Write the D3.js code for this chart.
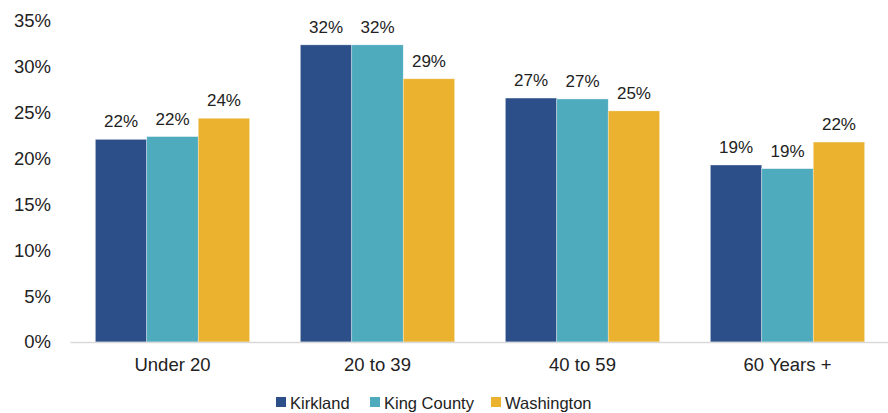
<!DOCTYPE html>
<html>
<head>
<meta charset="utf-8">
<script src="https://cdn.jsdelivr.net/npm/d3@7"></script>
<style>
  body { margin: 0; background: #fff; }
  text { font-family: "Liberation Sans", Arial, sans-serif; fill: #222; }
</style>
</head>
<body>
<div id="chart"></div>
<script>
const ageGroups = ["Under 20", "20 to 39", "40 to 59", "60 Years +"];
const seriesNames = ["Kirkland", "King County", "Washington"];
const kirkland = [22.1, 32.4, 26.6, 19.3];
const kingCounty = [22.4, 32.4, 26.5, 18.9];
const washington = [24.4, 28.7, 25.2, 21.8];
const yTicks = [0, 5, 10, 15, 20, 25, 30, 35];
const colors = ["#2c4f8a", "#4eabbd", "#eab22e"];

const seriesValues = [kirkland, kingCounty, washington];
const rows = ageGroups.map((g, i) => ({
  group: g,
  values: seriesNames.map((s, j) => ({ key: s, value: seriesValues[j][i] }))
}));

const W = 888, H = 413;
const margin = { top: 21, right: -2, bottom: 71, left: 70 };
const width = W - margin.left - margin.right,
  height = H - margin.top - margin.bottom;

const svg = d3.select("#chart").append("svg")
  .attr("width", W).attr("height", H);
const g = svg.append("g")
  .attr("transform", "translate(" + margin.left + "," + margin.top + ")");

const x0 = d3.scaleBand().domain(ageGroups).range([0, width])
  .paddingInner(0.247).paddingOuter(0.1235);
const x1 = d3.scaleBand().domain(seriesNames).range([0, x0.bandwidth()]);
const y = d3.scaleLinear().domain([0, 35]).range([height, 0]);
const color = d3.scaleOrdinal().domain(seriesNames).range(colors);

// y axis labels only, no line
const yAxis = g.append("g")
  .call(d3.axisLeft(y).tickValues(yTicks).tickFormat(d => d + "%").tickSize(0).tickPadding(19));
yAxis.select(".domain").remove();
yAxis.selectAll("text").style("font-size", "18.5px").attr("fill", "#222")
  .style("font-family", "'Liberation Sans', Arial, sans-serif");

// bars
const groups = g.selectAll(".grp").data(rows).enter().append("g")
  .attr("transform", d => "translate(" + x0(d.group) + ",0)");

groups.selectAll("rect").data(d => d.values).enter().append("rect")
  .attr("x", d => x1(d.key))
  .attr("y", d => y(d.value))
  .attr("width", x1.bandwidth())
  .attr("height", d => height - y(d.value))
  .attr("fill", d => color(d.key))
  .attr("stroke", "#ffffff")
  .attr("stroke-width", 0.6)
  .attr("stroke-opacity", 0.6);

groups.selectAll(".lbl").data(d => d.values).enter().append("text")
  .attr("class", "lbl")
  .attr("x", d => x1(d.key) + x1.bandwidth() / 2)
  .attr("y", d => y(d.value) - 12)
  .attr("text-anchor", "middle")
  .style("font-size", "17px")
  .text(d => Math.round(d.value) + "%");

// x axis
const xAxis = g.append("g")
  .attr("transform", "translate(0," + height + ")")
  .call(d3.axisBottom(x0).tickSize(0).tickPadding(16));
xAxis.select(".domain").attr("stroke", "#d9d9d9").attr("stroke-width", 1.5);
xAxis.selectAll("text").style("font-size", "18.5px").attr("fill", "#222")
  .style("font-family", "'Liberation Sans', Arial, sans-serif");

// legend
const legendX = [276, 370, 491];
const legend = svg.append("g");
seriesNames.forEach((s, i) => {
  legend.append("rect")
    .attr("x", legendX[i]).attr("y", 397)
    .attr("width", 10).attr("height", 10)
    .attr("fill", colors[i]);
  legend.append("text")
    .attr("x", legendX[i] + 14).attr("y", 408.5)
    .style("font-size", "16.5px")
    .text(s);
});
</script>
</body>
</html>
